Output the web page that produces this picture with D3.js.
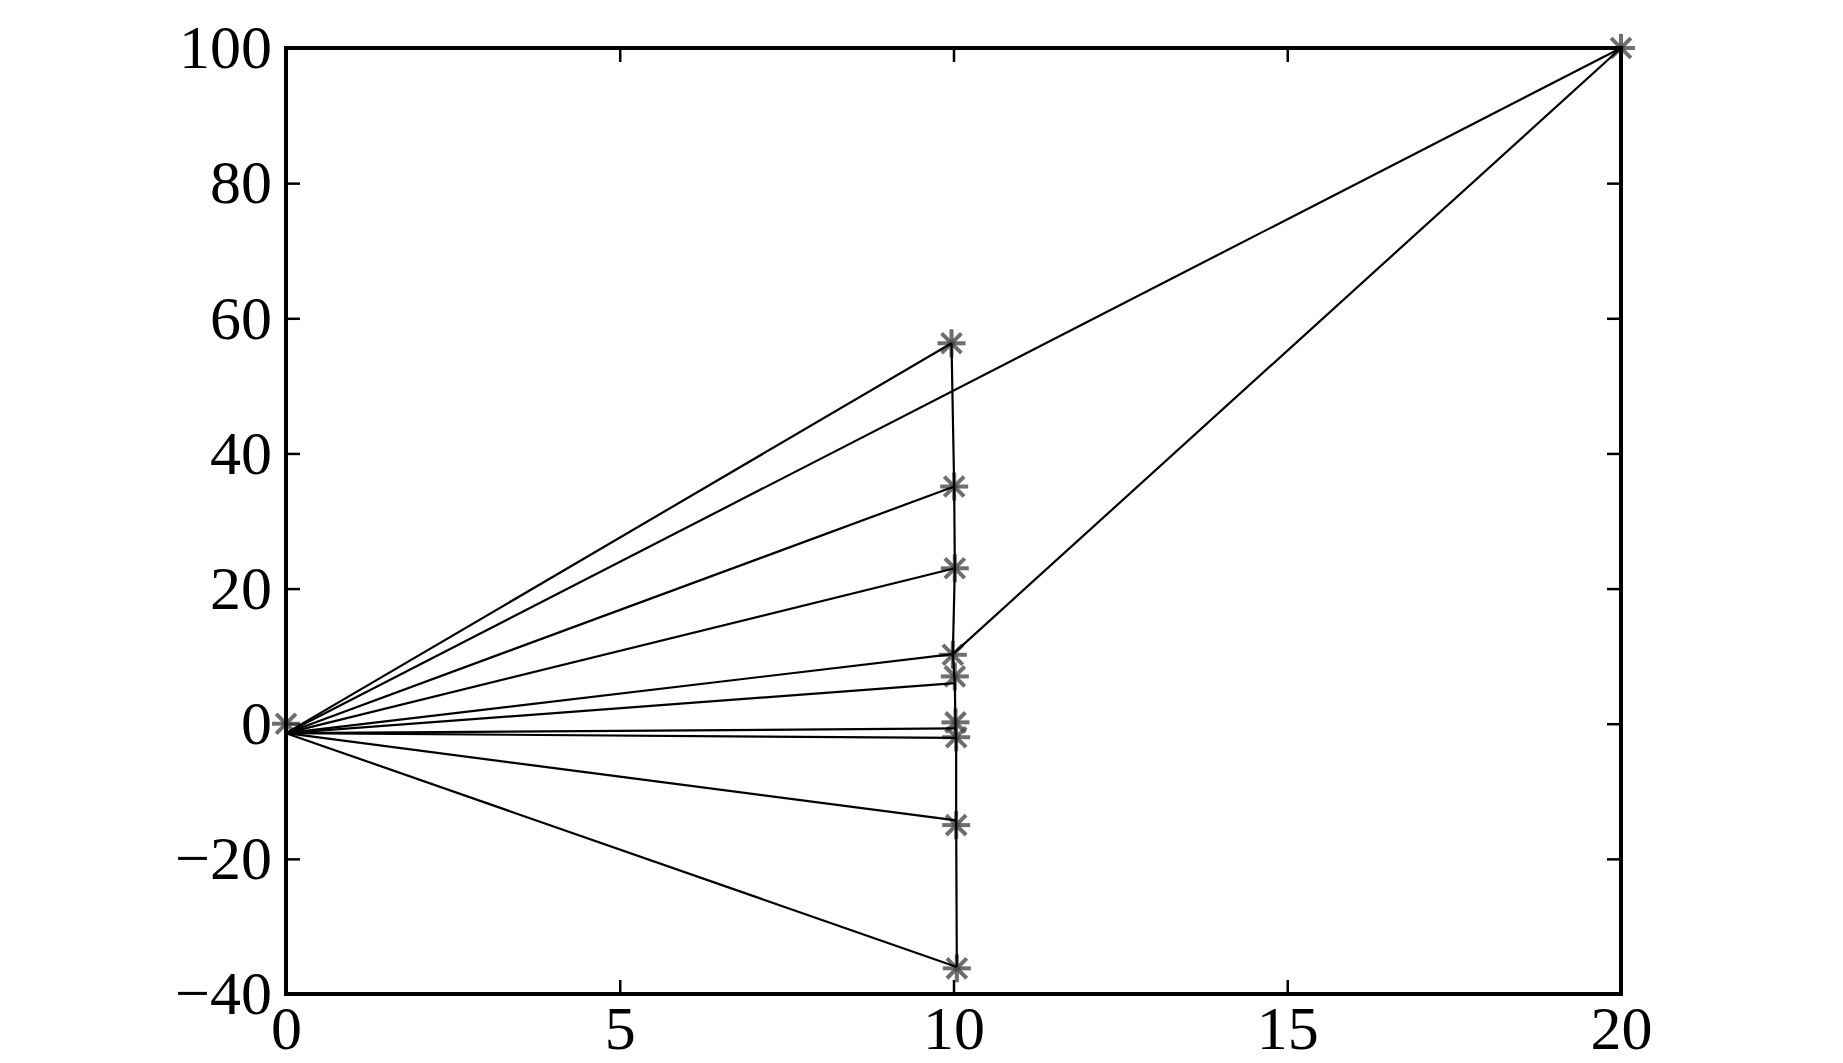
<!DOCTYPE html>
<html>
<head>
<meta charset="utf-8">
<script src="https://cdn.jsdelivr.net/npm/d3@7"></script>
<style>
  body { margin: 0; background: #fff; }
</style>
</head>
<body>
<div></div>
<script>
var width = 1843;
var height = 1063;
var margin = { top: 48, right: 222, bottom: 69, left: 286 };

var xTicks = [0, 5, 10, 15, 20];
var yTicks = [-40, -20, 0, 20, 40, 60, 80, 100];

// where all the rays start
var hubX = 0;
var hubY = -1.4;

// asterisk markers
var starX = [0, 9.97, 10.01, 10.02, 9.99, 10.02, 10.03, 10.04, 10.04, 10.05, 20];
var starY = [0, 56.3, 35.1, 23.0, 10.2, 7.0, 0.2, -2.0, -15.0, -36.2, 100];

// end points of the rays from the hub (also joined top to bottom at x≈10)
var rayX = [9.97, 10.01, 10.02, 9.99, 10.02, 10.03, 10.04, 10.04, 10.05, 20];
var rayY = [56.3, 35.1, 23.0, 10.3, 6.0, -0.7, -2.1, -14.3, -36.0, 100];

// extra segment from the x≈10 point to the top right point
var linkX = [9.99, 20];
var linkY = [10.3, 100];

var svg = d3.select("div")
  .append("svg")
  .attr("width", width)
  .attr("height", height);

var x = d3.scaleLinear()
  .domain([0, 20])
  .range([margin.left, width - margin.right]);

var y = d3.scaleLinear()
  .domain([-40, 100])
  .range([height - margin.bottom, margin.top]);

var fontSize = 62;
var tickLen = 14;
var serif = "'Liberation Serif'";

// ticks pointing inside, on all four sides
var xAxis = (g) =>
  g.attr("transform", `translate(0,${y(-40)})`)
    .call(d3.axisBottom(x).tickValues(xTicks).tickSizeInner(-tickLen).tickSizeOuter(0).tickPadding(11))
    .call((g) => g.select(".domain").remove());

var xAxisTop = (g) =>
  g.attr("transform", `translate(0,${y(100)})`)
    .call(d3.axisTop(x).tickValues(xTicks).tickSizeInner(-tickLen).tickSizeOuter(0).tickFormat(""))
    .call((g) => g.select(".domain").remove());

var yAxis = (g) =>
  g.attr("transform", `translate(${x(0)},0)`)
    .call(d3.axisLeft(y).tickValues(yTicks).tickSizeInner(-tickLen).tickSizeOuter(0).tickPadding(14))
    .call((g) => g.select(".domain").remove());

var yAxisRight = (g) =>
  g.attr("transform", `translate(${x(20)},0)`)
    .call(d3.axisRight(y).tickValues(yTicks).tickSizeInner(-tickLen).tickSizeOuter(0).tickFormat(""))
    .call((g) => g.select(".domain").remove());

[xAxis, xAxisTop, yAxis, yAxisRight].forEach((ax) => {
  svg.append("g").call(ax)
    .attr("font-family", null)
    .call((g) => g.selectAll(".tick line").attr("stroke", "#000").attr("stroke-width", 2.5))
    .call((g) => g.selectAll(".tick text")
      .style("font-size", fontSize + "px")
      .style("font-family", serif)
      .attr("fill", "#000"));
});

// markers first, black lines over them
var armLen = 14;
var arms = [0, 45, 90, 135];
var stars = svg.append("g")
  .attr("stroke", "#4a4a4a")
  .attr("stroke-opacity", 0.8)
  .attr("stroke-width", 4)
  .selectAll("g")
  .data(starX.map((d, i) => ({ x: d, y: starY[i] })))
  .join("g")
  .attr("transform", (d) => `translate(${x(d.x)},${y(d.y)})`);

arms.forEach((a) => {
  var r = a * Math.PI / 180;
  stars.append("line")
    .attr("x1", -armLen * Math.cos(r))
    .attr("y1", -armLen * Math.sin(r))
    .attr("x2", armLen * Math.cos(r))
    .attr("y2", armLen * Math.sin(r));
});

var lines = svg.append("g")
  .attr("stroke", "#000")
  .attr("stroke-width", 2.2)
  .attr("fill", "none");

// rays from the hub
lines.selectAll("line.ray")
  .data(rayX.map((d, i) => ({ x: d, y: rayY[i] })))
  .join("line")
  .attr("class", "ray")
  .attr("x1", x(hubX))
  .attr("y1", y(hubY))
  .attr("x2", (d) => x(d.x))
  .attr("y2", (d) => y(d.y));

// near vertical line joining the x≈10 points
var colPts = rayX.map((d, i) => [d, rayY[i]]).filter((p) => p[0] < 15);
lines.append("path")
  .attr("d", d3.line().x((p) => x(p[0])).y((p) => y(p[1]))(colPts));

lines.append("line")
  .attr("x1", x(linkX[0]))
  .attr("y1", y(linkY[0]))
  .attr("x2", x(linkX[1]))
  .attr("y2", y(linkY[1]));

// frame
svg.append("rect")
  .attr("x", x(0))
  .attr("y", y(100))
  .attr("width", x(20) - x(0))
  .attr("height", y(-40) - y(100))
  .attr("fill", "none")
  .attr("stroke", "#000")
  .attr("stroke-width", 4);
</script>
</body>
</html>
